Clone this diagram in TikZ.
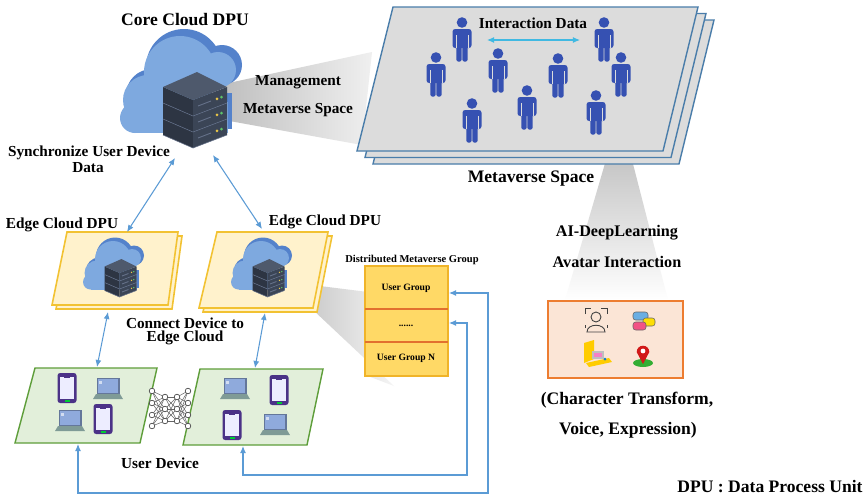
\documentclass[tikz,border=0pt]{standalone}
\usepackage{fontspec}
\setmainfont{Liberation Serif}
\usetikzlibrary{arrows.meta}

\definecolor{linkblue}{HTML}{5B9BD5}
\definecolor{planeedge}{HTML}{4A7DAA}
\definecolor{planegray}{HTML}{DCDCDC}
\definecolor{avatarblue}{HTML}{3651B2}
\definecolor{cloudlight}{HTML}{7EA9DF}
\definecolor{clouddark}{HTML}{5482CB}
\definecolor{srvtop}{HTML}{4E596C}
\definecolor{srvleft}{HTML}{2D3543}
\definecolor{srvright}{HTML}{3B4556}
\definecolor{srvedge}{HTML}{66728A}
\definecolor{ledyellow}{HTML}{E8C547}
\definecolor{ledgreen}{HTML}{5CC46A}
\definecolor{edgefill}{HTML}{FFF2CC}
\definecolor{edgeline}{HTML}{F2C232}
\definecolor{devfill}{HTML}{E2EFDA}
\definecolor{devline}{HTML}{5E9E3A}
\definecolor{groupfill}{HTML}{FFD966}
\definecolor{groupline}{HTML}{F0B429}
\definecolor{groupsep}{HTML}{E2702E}
\definecolor{avfill}{HTML}{FBE5D6}
\definecolor{avline}{HTML}{ED7D31}
\definecolor{phoneframe}{HTML}{4B3287}
\definecolor{lapscreen}{HTML}{8FAADC}
\definecolor{lapbase}{HTML}{7F9B96}

% three stacked server slabs, drawn around the cloud centre
\newcommand{\dpuserver}{%
  \foreach \dy in {32,16,0}{%
    \fill[srvleft] (-15,-3+\dy) -- (15,10+\dy) -- (15,26+\dy) -- (-15,13+\dy) -- cycle;
    \fill[srvright] (15,10+\dy) -- (49,-3+\dy) -- (49,13+\dy) -- (15,26+\dy) -- cycle;
    \draw[srvedge, line width=0.5pt] (20,16+\dy) -- (33,11+\dy);
    \fill[ledyellow] (39,8.8+\dy) circle (1.5);
    \fill[ledgreen] (43.5,7.1+\dy) circle (1.5);
    \draw[srvedge, line width=0.3pt] (-15,13+\dy) -- (15,26+\dy) -- (49,13+\dy);
  }
  \fill[srvtop] (-15,-3) -- (19,-18) -- (49,-3) -- (15,10) -- cycle;
}

\newcommand{\dpucloud}[3]{%
  \begin{scope}[shift={(#1,#2)}, scale=#3]
    \fill[clouddark] (6,-23) circle (38) (44,-25) circle (20) (-26,5) circle (26) (-39,23) circle (16);
    \fill[clouddark] (-39,3) rectangle (54,39);
    \fill[cloudlight] (2,-18) circle (36) (40,-20) circle (18) (-30,10) circle (25) (-43,28) circle (15);
    \fill[cloudlight] (-43,12) rectangle (50,43);
    \dpuserver
  \end{scope}}

\newcommand{\metaperson}[2]{%
  \begin{scope}[shift={(#1,#2)}]
    \fill[avatarblue] (0,5.5) circle (5.3);
    \fill[avatarblue, rounded corners=1.5pt] (-9.5,12) rectangle (9.5,31);
    \fill[avatarblue, rounded corners=0.8pt] (-5.6,28) rectangle (-0.4,44.5);
    \fill[avatarblue, rounded corners=0.8pt] (0.4,28) rectangle (5.6,44.5);
    \draw[planegray, line width=0.4pt] (-5.9,18) -- (-5.9,31) (5.9,18) -- (5.9,31);
  \end{scope}}

\newcommand{\devphone}[2]{%
  \begin{scope}[shift={(#1,#2)}]
    \fill[phoneframe, rounded corners=1.5pt] (-9.5,-15) rectangle (9.5,15);
    \fill[white!93!blue] (-7,-11) rectangle (7,10.5);
    \fill[phoneframe] (-3,-11.2) rectangle (3,-9.6);
    \fill[green!60!teal] (-2.5,11.8) rectangle (2.5,13.6);
  \end{scope}}

\newcommand{\devlaptop}[2]{%
  \begin{scope}[shift={(#1,#2)}]
    \fill[lapscreen!70!black] (-11.5,-11) rectangle (11.5,5);
    \fill[lapscreen] (-10.3,-9.8) rectangle (10.3,4);
    \fill[white!60!lapscreen] (-9,-8.5) rectangle (-6,-5.5);
    \fill[lapbase] (-12,5) -- (12,5) -- (15,10) -- (-15,10) -- cycle;
  \end{scope}}

\begin{document}
\begin{tikzpicture}[x=0.02cm, y=-0.02cm,
  bigtext/.style={font=\bfseries\fontsize{10}{12}\selectfont, inner sep=0pt},
  aitext/.style={font=\bfseries\fontsize{9.2}{11}\selectfont, inner sep=0pt},
  midtext/.style={font=\bfseries\fontsize{8.7}{10}\selectfont, inner sep=0pt},
  smalltext/.style={font=\bfseries\fontsize{6}{7}\selectfont, inner sep=0pt},
  celltext/.style={font=\bfseries\fontsize{5.5}{6.5}\selectfont, inner sep=0pt},
  link/.style={draw=linkblue, line width=0.6pt, {Latex[length=4pt,width=3.4pt]}-{Latex[length=4pt,width=3.4pt]}}]

  \fill[white] (0,0) rectangle (867,498);
  \useasboundingbox (0,0) rectangle (867,498);

  % light beams
  \shade[left color=gray!50, right color=gray!12] (224,84) -- (372,52) -- (362,145) -- (224,120) -- cycle;
  \shade[top color=gray!45, bottom color=white] (606,160) -- (632,160) -- (668,300) -- (565,300) -- cycle;
  \shade[left color=gray!40, right color=gray!8] (320,286) -- (368,292) -- (368,376) -- (394,386) -- (312,309) -- cycle;

  % metaverse space
  \foreach \dx/\dy in {16/13,8/6.5,0/0}
    \filldraw[fill=planegray, draw=planeedge, line width=0.8pt]
      (393+\dx,7+\dy) -- (698+\dx,7+\dy) -- (663+\dx,151+\dy) -- (357+\dx,151+\dy) -- cycle;
  \metaperson{462}{17}
  \metaperson{436}{52}
  \metaperson{498}{48}
  \metaperson{472}{98}
  \metaperson{527}{85}
  \metaperson{558}{53}
  \metaperson{604}{17}
  \metaperson{621}{52}
  \metaperson{596}{90}
  \coordinate (ia1) at (487,40);
  \coordinate (ia2) at (580,40);
  \draw[link, draw=linkblue!70!cyan] (ia1) -- (ia2);

  % core cloud
  \dpucloud{178}{90}{1}

  % edge clouds
  \foreach \d in {4,0}{
    \filldraw[fill=edgefill, draw=edgeline, line width=0.9pt] (67+\d,232+\d) -- (178+\d,232+\d) -- (168+\d,305+\d) -- (52+\d,305+\d) -- cycle;
    \filldraw[fill=edgefill, draw=edgeline, line width=0.9pt] (217+\d,232+\d) -- (328+\d,232+\d) -- (313+\d,308+\d) -- (199+\d,308+\d) -- cycle;
  }
  \dpucloud{112}{268}{0.5}
  \dpucloud{260}{268}{0.5}

  % user groups
  \filldraw[fill=groupfill, draw=groupline, line width=0.9pt] (365,266) rectangle (448,376);
  \draw[groupsep, line width=0.8pt] (365,309) -- (448,309) (365,342) -- (448,342);

  % user devices
  \filldraw[fill=devfill, draw=devline, line width=0.8pt] (35,368) -- (157,368) -- (140,443) -- (15,443) -- cycle;
  \filldraw[fill=devfill, draw=devline, line width=0.8pt] (200,369) -- (323,369) -- (307,445) -- (183,445) -- cycle;
  \devphone{67}{388}
  \devlaptop{108}{389}
  \devlaptop{70}{421}
  \devphone{103}{419}
  \devlaptop{235}{389}
  \devphone{279}{390}
  \devphone{232}{425}
  \devlaptop{275}{425}

  % neural net between the device groups
  \foreach \ya in {391,403,415,426}
    \foreach \yb in {397,409,421}
      \draw[black!60, line width=0.3pt] (152,\ya) -- (165,\yb) (188,\ya) -- (177,\yb);
  \foreach \ya in {397,409,421}
    \foreach \yb in {397,409,421}
      \draw[black!60, line width=0.3pt] (165,\ya) -- (177,\yb);
  \foreach \y in {391,403,415,426}
    \filldraw[fill=white, draw=black!70, line width=0.4pt] (152,\y) circle (2.8) (188,\y) circle (2.8);
  \foreach \y in {397,409,421}
    \filldraw[fill=white, draw=black!70, line width=0.4pt] (165,\y) circle (2.8) (177,\y) circle (2.8);

  % avatar interaction box
  \filldraw[fill=avfill, draw=avline, line width=1pt] (548,301) rectangle (683,378);
  \begin{scope}[shift={(596,320)}]
    \draw[black!75, line width=0.5pt] (-11,-6) -- (-11,-12) -- (-5,-12) (5,-12) -- (11,-12) -- (11,-6);
    \draw[black!75, line width=0.5pt] (0,-3) circle (5);
    \draw[black!75, line width=0.5pt] (-9,12) .. controls (-9,3) and (9,3) .. (9,12) -- cycle;
    \draw[black!75, line width=0.5pt] (-11,5) -- (-11,8) (11,5) -- (11,8);
  \end{scope}
  \begin{scope}[shift={(643,321)}]
    \filldraw[fill=cyan!70!blue!60, draw=black!60, line width=0.3pt, rounded corners=1.5pt] (-10,-9) rectangle (5,-1);
    \filldraw[fill=yellow!80!orange, draw=black!60, line width=0.3pt, rounded corners=1.5pt] (0,-3) rectangle (12,5);
    \filldraw[fill=magenta!60!red!70, draw=black!60, line width=0.3pt, rounded corners=1.5pt] (-10,1) rectangle (3,9);
  \end{scope}
  \begin{scope}[shift={(597,354)}]
    \fill[orange!40!yellow] (-13,-11) -- (-3,-14) -- (-3,5) -- (-13,9) -- cycle;
    \fill[black!25] (-5,-3) rectangle (7,5);
    \fill[magenta!50] (-3,-1) rectangle (5,3);
    \fill[orange!40!yellow] (-11,9) -- (12,4) -- (15,8) -- (-8,13) -- cycle;
    \fill[cyan!60!blue] (8,5) circle (1.5);
  \end{scope}
  \begin{scope}[shift={(643,355)}]
    \fill[green!60!black!80] (0,8) ellipse [x radius=10, y radius=4];
    \fill[red!80!black!90] (-6.3,-3) arc[start angle=180, end angle=360, radius=6.3] -- (0,9) -- cycle;
    \fill[white] (0,-4) circle (2.4);
  \end{scope}

  % connectors
  \coordinate (coreL) at (175,158);
  \coordinate (coreR) at (213,155);
  \coordinate (edgeLtop) at (127,232);
  \coordinate (edgeRtop) at (262,229);
  \coordinate (edgeLbot) at (108,312);
  \coordinate (edgeRbot) at (265,313);
  \coordinate (devLtop) at (97,367);
  \coordinate (devRtop) at (255,368);
  \coordinate (devLbot) at (78,444);
  \coordinate (devRbot) at (243,446);
  \coordinate (grpA) at (449,293);
  \coordinate (grpB) at (449,323);
  \draw[link] (coreL) -- (edgeLtop);
  \draw[link] (coreR) -- (edgeRtop);
  \draw[link] (edgeLbot) -- (devLtop);
  \draw[link] (edgeRbot) -- (devRtop);
  \draw[link] (devLbot) |- (488,493) -- (488,293) -- (grpA);
  \draw[link] (devRbot) |- (467,475) -- (467,323) -- (grpB);

  % labels
  \node[bigtext] (coretitle) at (185,20) {Core Cloud DPU};
  \node[midtext] (mgmt) at (298,82) {Management};
  \node[midtext] (mgmtspace) at (298,110) {Metaverse Space};
  \node[midtext] (sync1) at (89,153) {Synchronize User Device};
  \node[midtext] (sync2) at (88,168) {Data};
  \node[midtext] (interact) at (533,23) {Interaction Data};
  \node[bigtext] (metatitle) at (531,179) {Metaverse Space};
  \node[aitext] (ai1) at (617,233) {AI-DeepLearning};
  \node[aitext] (ai2) at (617,262) {Avatar Interaction};
  \node[bigtext] (char1) at (627,400) {(Character Transform,};
  \node[bigtext] (char2) at (628,430) {Voice, Expression)};
  \node[bigtext] (dpunote) at (770,487) {DPU : Data Process Unit};
  \node[midtext] (edgeLtitle) at (62,225) {Edge Cloud DPU};
  \node[midtext] (edgeRtitle) at (325,222) {Edge Cloud DPU};
  \node[midtext] (conn1) at (185,323) {Connect Device to};
  \node[midtext] (conn2) at (185,338) {Edge Cloud};
  \node[midtext] (userdev) at (160,463) {User Device};
  \node[smalltext] (grptitle) at (412,260) {Distributed Metaverse Group};
  \node[celltext] (grp1) at (406,288) {User Group};
  \node[celltext] (grpdots) at (406,326) {......};
  \node[celltext] (grpN) at (406,358) {User Group N};
\end{tikzpicture}
\end{document}
